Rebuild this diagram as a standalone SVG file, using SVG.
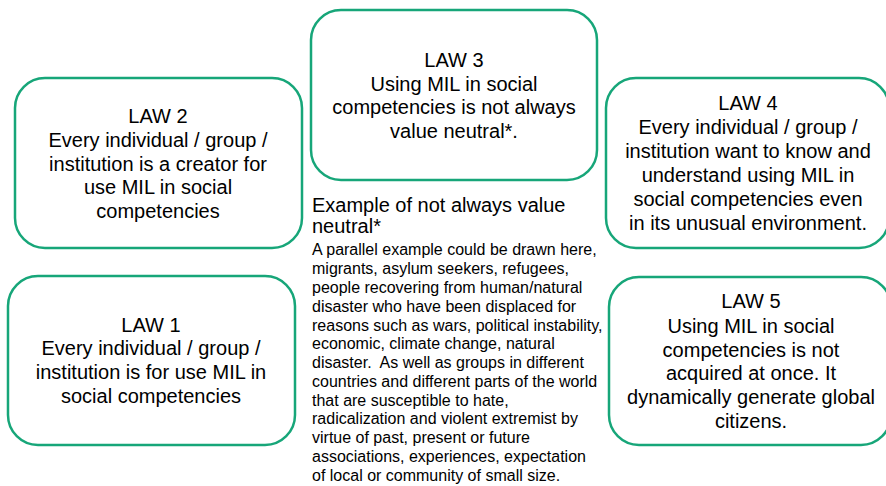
<svg xmlns="http://www.w3.org/2000/svg" width="886" height="486" viewBox="0 0 886 486">
<style>
.box{fill:#ffffff;stroke:#17a679;stroke-width:2.5}
.t{font-family:"Liberation Sans",Arial,sans-serif;font-size:20px;fill:#000000;text-anchor:middle}
.h{font-family:"Liberation Sans",Arial,sans-serif;font-size:20px;fill:#000000}
.b{font-family:"Liberation Sans",Arial,sans-serif;font-size:16px;fill:#000000}
</style>
<rect width="886" height="486" fill="#ffffff"/>
<g id="connectors"></g>
<g id="law3">
<rect class="box" x="311" y="10" width="286" height="170" rx="30"/>
<text class="t" x="454" y="67">LAW 3</text>
<text class="t" x="454" y="91">Using MIL in social</text>
<text class="t" x="454" y="114">competencies is not always</text>
<text class="t" x="454" y="138">value neutral*.</text>
</g>
<g id="law2">
<rect class="box" x="15" y="78" width="287" height="170" rx="30"/>
<text class="t" x="158" y="123">LAW 2</text>
<text class="t" x="158" y="147">Every individual / group /</text>
<text class="t" x="158" y="171">institution is a creator for</text>
<text class="t" x="158" y="194">use MIL in social</text>
<text class="t" x="158" y="218">competencies</text>
</g>
<g id="law4">
<rect class="box" x="606" y="78" width="283" height="170" rx="30"/>
<text class="t" x="748" y="110">LAW 4</text>
<text class="t" x="748" y="134">Every individual / group /</text>
<text class="t" x="748" y="158">institution want to know and</text>
<text class="t" x="748" y="182">understand using MIL in</text>
<text class="t" x="748" y="206">social competencies even</text>
<text class="t" x="748" y="230">in its unusual environment.</text>
</g>
<g id="law1">
<rect class="box" x="8" y="276" width="287" height="169" rx="30"/>
<text class="t" x="151" y="332">LAW 1</text>
<text class="t" x="151" y="355">Every individual / group /</text>
<text class="t" x="151" y="379">institution is for use MIL in</text>
<text class="t" x="151" y="403">social competencies</text>
</g>
<g id="law5">
<rect class="box" x="609" y="277" width="282" height="168" rx="30"/>
<text class="t" x="751" y="308">LAW 5</text>
<text class="t" x="751" y="333">Using MIL in social</text>
<text class="t" x="751" y="357">competencies is not</text>
<text class="t" x="751" y="380">acquired at once. It</text>
<text class="t" x="751" y="404">dynamically generate global</text>
<text class="t" x="751" y="428">citizens.</text>
</g>
<g id="example">
<text class="h" x="312" y="212">Example of not always value</text>
<text class="h" x="312" y="233">neutral*</text>
<text class="b" x="312" y="255">A parallel example could be drawn here,</text>
<text class="b" x="312" y="274">migrants, asylum seekers, refugees,</text>
<text class="b" x="312" y="293">people recovering from human/natural</text>
<text class="b" x="312" y="312">disaster who have been displaced for</text>
<text class="b" x="312" y="331">reasons such as wars, political instability,</text>
<text class="b" x="312" y="349">economic, climate change, natural</text>
<text class="b" x="312" y="368" xml:space="preserve">disaster.  As well as groups in different</text>
<text class="b" x="312" y="387">countries and different parts of the world</text>
<text class="b" x="312" y="406">that are susceptible to hate,</text>
<text class="b" x="312" y="424">radicalization and violent extremist by</text>
<text class="b" x="312" y="443">virtue of past, present or future</text>
<text class="b" x="312" y="462">associations, experiences, expectation</text>
<text class="b" x="312" y="481">of local or community of small size.</text>
</g>
</svg>
